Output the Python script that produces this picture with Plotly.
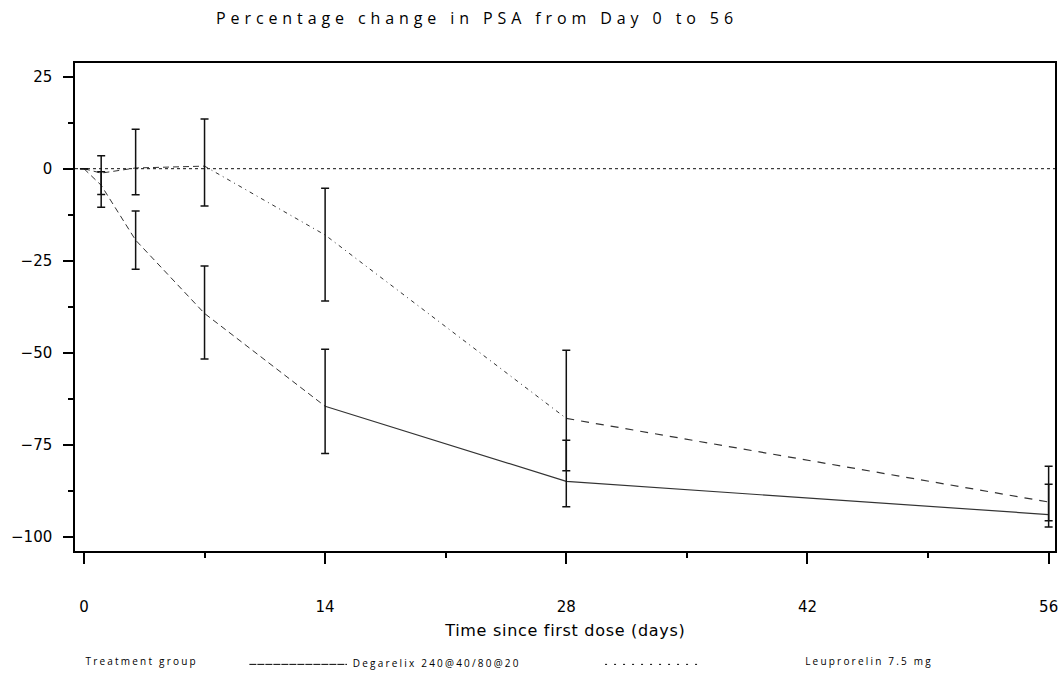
import plotly.graph_objects as go

# ---- data ----
days = [0, 1, 3, 7, 14, 28, 56]
deg_mean = [0, -4.5, -19.4, -39.3, -64.5, -84.9, -93.9]
deg_upper = [None, -0.8, -11.5, -26.4, -49.0, -73.7, -85.7]
deg_lower = [None, -10.5, -27.3, -51.7, -77.3, -91.8, -97.3]
leu_mean = [0, -1.2, 0.2, 0.7, -18.0, -67.8, -90.5]
leu_upper = [None, 3.5, 10.7, 13.5, -5.3, -49.3, -80.8]
leu_lower = [None, -7.0, -7.1, -10.1, -35.9, -82.0, -95.6]
x_ticks = [0, 14, 28, 42, 56]
y_ticks = [-100, -75, -50, -25, 0, 25]
title_text = "Percentage change in PSA from Day 0 to 56"
x_title = "Time since first dose (days)"
legend_title = "Treatment group"
deg_name = "Degarelix 240@40/80@20"
leu_name = "Leuprorelin 7.5 mg"


def plus(mean, up):
    return [None if u is None else u - m for m, u in zip(mean, up)]


def minus(mean, lo):
    return [None if l is None else m - l for m, l in zip(mean, lo)]


LINE = "#333333"
fig = go.Figure()

# Degarelix: dashed early, solid later
i14 = days.index(14)
fig.add_trace(go.Scatter(x=days[:i14 + 1], y=deg_mean[:i14 + 1], mode="lines",
                         line=dict(color=LINE, width=1, dash="6px,4px"),
                         name=deg_name, showlegend=False, hoverinfo="skip"))
fig.add_trace(go.Scatter(x=days[i14:], y=deg_mean[i14:], mode="lines",
                         line=dict(color=LINE, width=1.2),
                         name=deg_name, showlegend=False, hoverinfo="skip"))
# Leuprorelin: dashed / dash-dot segments
i7 = days.index(7)
i28 = days.index(28)
fig.add_trace(go.Scatter(x=days[:i7 + 1], y=leu_mean[:i7 + 1], mode="lines",
                         line=dict(color=LINE, width=1, dash="6px,4px"),
                         name=leu_name, showlegend=False, hoverinfo="skip"))
fig.add_trace(go.Scatter(x=days[i7:i28 + 1], y=leu_mean[i7:i28 + 1], mode="lines",
                         line=dict(color=LINE, width=1, dash="4px,4px,1px,4px"),
                         name=leu_name, showlegend=False, hoverinfo="skip"))
fig.add_trace(go.Scatter(x=days[i28:], y=leu_mean[i28:], mode="lines",
                         line=dict(color=LINE, width=1.2, dash="8px,7px"),
                         name=leu_name, showlegend=False, hoverinfo="skip"))

# error bars
for mean, up, lo, name in [(deg_mean, deg_upper, deg_lower, deg_name),
                           (leu_mean, leu_upper, leu_lower, leu_name)]:
    fig.add_trace(go.Scatter(
        x=days, y=mean, mode="markers", marker=dict(size=1, opacity=0),
        error_y=dict(type="data", symmetric=False,
                     array=plus(mean, up), arrayminus=minus(mean, lo),
                     color="#111111", thickness=1.5, width=4),
        name=name, showlegend=False, hoverinfo="skip"))

tickfont = dict(family="DejaVu Sans", size=15, color="#000000")
fig.update_xaxes(range=[-0.52, 56.37], tickvals=x_ticks, ticktext=[str(v) for v in x_ticks],
                 ticks="outside", ticklen=11, tickwidth=1.5, tickcolor="#000",
                 minor=dict(dtick=7, tick0=0, ticks="outside", ticklen=5, tickwidth=1.5, tickcolor="#000"),
                 showline=True, linecolor="#000", linewidth=1.5, mirror=True,
                 showgrid=False, zeroline=False, tickfont=tickfont, ticklabelstandoff=30)
fig.update_yaxes(range=[-103.8, 28.7], tickvals=y_ticks, ticktext=[str(v).replace("-", "\u2212") for v in y_ticks],
                 ticks="outside", ticklen=10, tickwidth=1.5, tickcolor="#000",
                 minor=dict(dtick=12.5, tick0=0, ticks="outside", ticklen=5, tickwidth=1.5, tickcolor="#000"),
                 showline=True, linecolor="#000", linewidth=1.5, mirror=True,
                 showgrid=False, zeroline=False, tickfont=tickfont, ticklabelstandoff=8)

PW = 983.6
PH = 487.7
legend_font = dict(family="Open Sans", size=10, color="#000")
fig.update_layout(
    width=1063, height=673,
    margin=dict(l=75, r=5, t=63, b=122),
    paper_bgcolor="white", plot_bgcolor="white",
    title=dict(text=title_text, x=477 / 1063, xanchor="center", xref="container",
               y=1 - 18 / 673, yanchor="middle", yref="container",
               font=dict(family="Open Sans", size=16, color="#000")),
    showlegend=False,
    annotations=[
        dict(text=x_title, xref="paper", yref="paper", x=0.5, y=-0.163,
             xanchor="center", yanchor="middle", showarrow=False,
             font=dict(family="DejaVu Sans", size=16, color="#000")),
        dict(text=legend_title, xref="paper", yref="paper", x=(141.5 - 75) / PW, y=-(661 - 550.7) / PH,
             xanchor="center", yanchor="middle", showarrow=False, font=legend_font),
        dict(text=deg_name, xref="paper", yref="paper", x=(438.5 - 75) / PW, y=-(663 - 550.7) / PH,
             xanchor="center", yanchor="middle", showarrow=False, font=legend_font),
        dict(text=leu_name, xref="paper", yref="paper", x=(872.5 - 75) / PW, y=-(661 - 550.7) / PH,
             xanchor="center", yanchor="middle", showarrow=False, font=legend_font),
    ],
)

# zero reference line and legend samples
fig.add_hline(y=0, line=dict(color="#111111", width=1, dash="3px,3px"))
fig.add_shape(type="line", xref="paper", yref="paper",
              x0=(250 - 75) / PW, x1=(348 - 75) / PW,
              y0=-(664 - 550.7) / PH, y1=-(664 - 550.7) / PH,
              line=dict(color="#000", width=1, dash="7px,1px"))
fig.add_shape(type="line", xref="paper", yref="paper",
              x0=(607 - 75) / PW, x1=(706 - 75) / PW,
              y0=-(664 - 550.7) / PH, y1=-(664 - 550.7) / PH,
              line=dict(color="#000", width=1, dash="2px,7px"))

post = """
document.body.style.margin='0';
document.querySelectorAll('.gtitle').forEach(function(e){e.style.letterSpacing='4.9px';});
document.querySelectorAll('.annotation-text').forEach(function(e){
  if (e.textContent.indexOf('Time since') < 0) { e.style.letterSpacing='2.2px'; }
  else { e.style.letterSpacing='0.7px'; }
});
"""
fig.write_html("out.html", post_script=post, config={"displayModeBar": False})
